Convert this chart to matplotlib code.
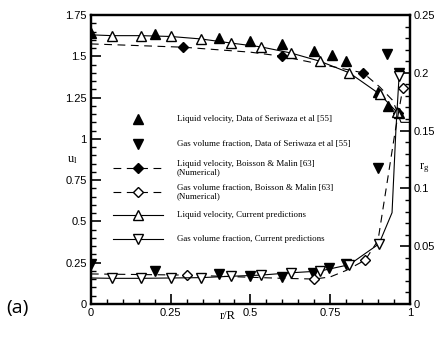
import matplotlib
matplotlib.use('Agg')
import matplotlib.pyplot as plt
from matplotlib.ticker import MultipleLocator, FuncFormatter

# Seriwaza et al [55] measurements
x_sl = [0.0, 0.2, 0.4, 0.5, 0.6, 0.7, 0.755, 0.8, 0.9, 0.93, 0.965]
u_sl = [1.64, 1.635, 1.61, 1.595, 1.575, 1.535, 1.505, 1.47, 1.285, 1.20, 1.155]
x_sg = [0.0, 0.2, 0.4, 0.5, 0.6, 0.695, 0.745, 0.8, 0.9, 0.928, 0.965]
rg_sg = [0.035, 0.0285, 0.026, 0.0245, 0.023, 0.027, 0.031, 0.035, 0.118, 0.216, 0.20]

# Boisson & Malin [63]
x_bl = [0.0, 0.29, 0.5, 0.6, 0.7, 0.853, 0.905, 0.945, 0.962]
u_bl = [1.575, 1.555, 1.525, 1.50, 1.46, 1.40, 1.315, 1.235, 1.157]
mk_bl = [1, 3, 5, 8]
x_bg = [0.0, 0.3, 0.6, 0.7, 0.75, 0.8, 0.86, 0.90, 0.953, 0.978]
rg_bg = [0.026, 0.025, 0.0222, 0.0216, 0.0234, 0.029, 0.038, 0.055, 0.148, 0.187]
mk_bg = [1, 3, 6, 9]

# current predictions
x_cl = [0.0, 0.066, 0.157, 0.25, 0.345, 0.44, 0.533, 0.627, 0.718, 0.81, 0.906, 0.96, 0.972, 1.0]
u_cl = [1.63, 1.625, 1.625, 1.62, 1.605, 1.58, 1.557, 1.52, 1.47, 1.40, 1.27, 1.16, 1.10, 1.10]
mk_cl = [1, 2, 3, 4, 5, 6, 7, 8, 9, 10, 11]
x_cg = [0.0, 0.066, 0.157, 0.25, 0.345, 0.44, 0.533, 0.627, 0.718, 0.81, 0.903, 0.944, 0.956, 0.966]
rg_cg = [0.0225, 0.0222, 0.0222, 0.0225, 0.0228, 0.024, 0.025, 0.027, 0.0285, 0.034, 0.052, 0.079, 0.15, 0.197]
mk_cg = [1, 2, 3, 4, 5, 6, 7, 8, 9, 10, 13]

labels = ['Liquid velocity, Data of Seriwaza et al [55]',
          'Gas volume fraction, Data of Seriwaza et al [55]',
          'Liquid velocity, Boisson & Malin [63]\n(Numerical)',
          'Gas volume fraction, Boisson & Malin [63]\n(Numerical)',
          'Liquid velocity, Current predictions',
          'Gas volume fraction, Current predictions']

serif = 'Liberation Serif'
sans = 'Liberation Sans'
lw = 0.8
ms = 6.8
fmt = FuncFormatter(lambda v, p: f'{v:g}')

fig = plt.figure(figsize=(4.37, 3.38), dpi=100)
ax = fig.add_axes((0.208, 0.1006, 0.730, 0.855))
ax2 = ax.twinx()

ax.plot(x_sl, u_sl, ls='none', marker='^', color='k', ms=ms)
ax.plot(x_bl, u_bl, ls=(0, (7, 5)), color='k', lw=lw, marker='D', ms=5, markevery=mk_bl)
ax.plot(x_cl, u_cl, ls='-', color='k', lw=lw, marker='^', ms=ms, mfc='white', markevery=mk_cl)
ax2.plot(x_sg, rg_sg, ls='none', marker='v', color='k', ms=ms)
ax2.plot(x_bg, rg_bg, ls=(0, (7, 5)), color='k', lw=lw, marker='D', ms=5, mfc='white', markevery=mk_bg)
ax2.plot(x_cg, rg_cg, ls='-', color='k', lw=lw, marker='v', ms=ms, mfc='white', markevery=mk_cg)

ax.set_xlim(0, 1)
ax.set_ylim(0, 1.75)
ax2.set_ylim(0, 0.25)
ax.xaxis.set_major_locator(MultipleLocator(0.25))
ax.xaxis.set_minor_locator(MultipleLocator(0.05))
ax.yaxis.set_major_locator(MultipleLocator(0.25))
ax.yaxis.set_minor_locator(MultipleLocator(0.05))
ax2.yaxis.set_major_locator(MultipleLocator(0.05))
ax2.yaxis.set_minor_locator(MultipleLocator(0.01))
ax.xaxis.set_major_formatter(fmt)
ax.yaxis.set_major_formatter(fmt)
ax2.yaxis.set_major_formatter(fmt)

for a in (ax, ax2):
    a.tick_params(which='major', direction='in', length=7, width=1.2, labelsize=8, pad=3)
    a.tick_params(which='minor', direction='in', length=3.5, width=1.0)
    for s in a.spines.values():
        s.set_linewidth(1.6)
    for t in a.get_xticklabels() + a.get_yticklabels():
        t.set_fontfamily(sans)
ax.tick_params(top=False, right=False, which='both')

ax.text(-0.04, 0.5, 'u$\\mathregular{_l}$', transform=ax.transAxes, family=serif,
        fontsize=9, ha='right', va='center')
ax2.text(1.03, 0.47, 'r$\\mathregular{_g}$', transform=ax.transAxes, family=serif,
         fontsize=9, ha='left', va='center')
ax.text(0.43, -0.02, 'r/R', transform=ax.transAxes, family=serif, fontsize=9,
        ha='center', va='top')
fig.text(0.015, 0.09, '(a)', family='Open Sans', fontsize=14, ha='left', va='center')

# hand-drawn legend in axes fraction
rows = [0.640, 0.554, 0.471, 0.388, 0.308, 0.225]
styles = [dict(ls='none', marker='^', mfc='k'),
          dict(ls='none', marker='v', mfc='k'),
          dict(ls=(0, (7, 5)), marker='D', mfc='k', ms=5),
          dict(ls=(0, (7, 5)), marker='D', mfc='white', ms=5),
          dict(ls='-', marker='^', mfc='white'),
          dict(ls='-', marker='v', mfc='white')]
for yy, st, lab in zip(rows, styles, labels):
    kw = dict(color='k', lw=lw, ms=ms)
    kw.update(st)
    ax.plot([0.069, 0.147, 0.226], [yy, yy, yy], transform=ax.transAxes,
            markevery=[1], clip_on=False, **kw)
    ax.text(0.27, yy, lab, transform=ax.transAxes, family=serif, fontsize=6.4,
            ha='left', va='center', linespacing=1.1)

fig.savefig('out.png', dpi=100)
